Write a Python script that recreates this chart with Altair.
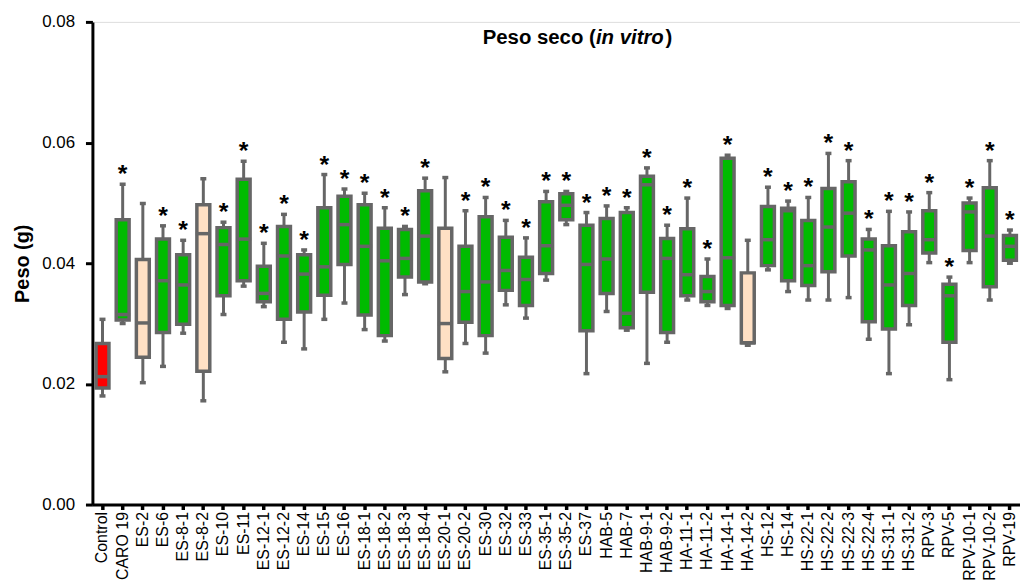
import altair as alt
import pandas as pd

categories = ["Control", "CARO 19", "ES-2", "ES-6", "ES-8-1", "ES-8-2", "ES-10", "ES-11",
              "ES-12-1", "ES-12-2", "ES-14", "ES-15", "ES-16", "ES-18-1", "ES-18-2", "ES-18-3",
              "ES-18-4", "ES-20-1", "ES-20-2", "ES-30", "ES-32", "ES-33", "ES-35-1", "ES-35-2",
              "ES-37", "HAB-5", "HAB-7", "HAB-9-1", "HAB-9-2", "HA-11-1", "HA-11-2", "HA-14-1",
              "HA-14-2", "HS-12", "HS-14", "HS-22-1", "HS-22-2", "HS-22-3", "HS-22-4", "HS-31-1",
              "HS-31-2", "RPV-3", "RPV-5", "RPV-10-1", "RPV-10-2", "RPV-19"]

low = [0.0180, 0.0300, 0.0202, 0.0229, 0.0284, 0.0172, 0.0315, 0.0362,
       0.0328, 0.0269, 0.0258, 0.0307, 0.0334, 0.0290, 0.0271, 0.0348,
       0.0366, 0.0220, 0.0267, 0.0251, 0.0331, 0.0309, 0.0372, 0.0464,
       0.0217, 0.0320, 0.0289, 0.0234, 0.0269, 0.0339, 0.0330, 0.0325,
       0.0264, 0.0389, 0.0353, 0.0339, 0.0339, 0.0343, 0.0274, 0.0217,
       0.0298, 0.0401, 0.0207, 0.0401, 0.0339, 0.0400]
q1 = [0.0193, 0.0306, 0.0244, 0.0285, 0.0299, 0.0221, 0.0346, 0.0371,
      0.0336, 0.0307, 0.0319, 0.0347, 0.0398, 0.0314, 0.0280, 0.0377,
      0.0369, 0.0242, 0.0302, 0.0280, 0.0355, 0.0330, 0.0383, 0.0472,
      0.0288, 0.0350, 0.0293, 0.0352, 0.0285, 0.0346, 0.0336, 0.0330,
      0.0268, 0.0396, 0.0371, 0.0363, 0.0386, 0.0412, 0.0303, 0.0291,
      0.0330, 0.0417, 0.0269, 0.0421, 0.0361, 0.0405]
median = [0.0212, 0.0315, 0.0301, 0.0371, 0.0364, 0.0449, 0.0431, 0.0440,
          0.0350, 0.0412, 0.0382, 0.0394, 0.0464, 0.0428, 0.0404, 0.0408,
          0.0445, 0.0300, 0.0353, 0.0369, 0.0388, 0.0373, 0.0429, 0.0496,
          0.0398, 0.0407, 0.0317, 0.0530, 0.0408, 0.0381, 0.0353, 0.0409,
          0.0268, 0.0439, 0.0487, 0.0396, 0.0460, 0.0483, 0.0422, 0.0364,
          0.0383, 0.0439, 0.0346, 0.0485, 0.0445, 0.0428]
q3 = [0.0267, 0.0472, 0.0406, 0.0440, 0.0414, 0.0497, 0.0459, 0.0539,
      0.0395, 0.0461, 0.0414, 0.0492, 0.0511, 0.0497, 0.0458, 0.0456,
      0.0520, 0.0458, 0.0428, 0.0477, 0.0443, 0.0410, 0.0502, 0.0515,
      0.0463, 0.0474, 0.0484, 0.0544, 0.0441, 0.0457, 0.0378, 0.0574,
      0.0384, 0.0494, 0.0491, 0.0471, 0.0524, 0.0535, 0.0440, 0.0429,
      0.0452, 0.0487, 0.0365, 0.0500, 0.0525, 0.0446]
high = [0.0307, 0.0531, 0.0499, 0.0462, 0.0438, 0.0540, 0.0468, 0.0569,
        0.0433, 0.0481, 0.0422, 0.0547, 0.0523, 0.0516, 0.0492, 0.0461,
        0.0541, 0.0542, 0.0487, 0.0509, 0.0471, 0.0442, 0.0519, 0.0519,
        0.0484, 0.0495, 0.0492, 0.0558, 0.0463, 0.0508, 0.0407, 0.0579,
        0.0438, 0.0526, 0.0503, 0.0509, 0.0582, 0.0570, 0.0456, 0.0486,
        0.0485, 0.0517, 0.0377, 0.0508, 0.0570, 0.0455]

group_names = ["control", "ns", "sig"]
group_colors = ["#ff0000", "#ffe0c4", "#00bb00"]
groups = ["control", "sig", "ns", "sig", "sig", "ns", "sig", "sig",
          "sig", "sig", "sig", "sig", "sig", "sig", "sig", "sig",
          "sig", "ns", "sig", "sig", "sig", "sig", "sig", "sig",
          "sig", "sig", "sig", "sig", "sig", "sig", "sig", "sig",
          "ns", "sig", "sig", "sig", "sig", "sig", "sig", "sig",
          "sig", "sig", "sig", "sig", "sig", "sig"]
star = [0 if g in ("control", "ns") else 1 for g in groups]

df = pd.DataFrame({"cat": categories, "low": low, "q1": q1, "median": median,
                   "q3": q3, "high": high, "grp": groups, "star": star})

FONT = "Liberation Sans"
GRAY = "#666666"

x_enc = alt.X("cat:N", sort=categories, title=None,
              scale=alt.Scale(paddingInner=0, paddingOuter=0),
              axis=alt.Axis(labelAngle=-90, labelFontSize=16, labelColor="black",
                            labelFont=FONT, tickSize=5, tickWidth=3.5, tickColor="black",
                            domainColor="black", domainWidth=3, labelPadding=2,
                            labelOverlap=False))
y_scale = alt.Scale(domain=[0, 0.08], nice=False, zero=True)
y_axis = alt.Axis(values=[0, 0.02, 0.04, 0.06, 0.08], format=".2f", grid=False,
                  labelFontSize=17, labelFont=FONT, labelColor="black", tickSize=7,
                  tickWidth=3, tickColor="black", domainColor="black", domainWidth=3,
                  labelPadding=11, title="Peso (g)", titleFont=FONT, titleFontSize=20,
                  titleFontWeight="bold", titleColor="black", titlePadding=9)

base = alt.Chart(df)

whisker = base.mark_rule(color=GRAY, strokeWidth=3).encode(
    x=x_enc, y=alt.Y("low:Q", scale=y_scale, axis=y_axis), y2="high:Q")

box = base.mark_bar(size=13, stroke=GRAY, strokeWidth=3.5).encode(
    x=x_enc, y="q1:Q", y2="q3:Q",
    color=alt.Color("grp:N", scale=alt.Scale(domain=group_names, range=group_colors),
                    legend=None))

med = base.mark_tick(color=GRAY, thickness=3.5, size=15, orient="horizontal", opacity=1).encode(
    x=x_enc, y="median:Q")

cap_low = base.mark_tick(color=GRAY, thickness=3.5, size=6, orient="horizontal", opacity=1).encode(
    x=x_enc, y="low:Q")
cap_high = base.mark_tick(color=GRAY, thickness=3.5, size=6, orient="horizontal", opacity=1).encode(
    x=x_enc, y="high:Q")

stars = base.transform_filter(alt.datum.star == 1).mark_text(
    text="*", fontSize=25, font=FONT, fontWeight="bold", color="black",
    baseline="alphabetic", dy=-2
).encode(x=x_enc, y="high:Q")

one = alt.Data(values=[{"k": 1}])
title_size = 20.5
t1 = alt.Chart(one).mark_text(text="Peso seco (", font=FONT, fontSize=title_size,
                              fontWeight="bold", align="left", baseline="alphabetic",
                              color="black").encode(x=alt.value(393), y=alt.value(22))
t2 = alt.Chart(one).mark_text(text="in vitro", font=FONT, fontSize=title_size,
                              fontWeight="bold", fontStyle="italic", align="left",
                              baseline="alphabetic", color="black").encode(
    x=alt.value(507), y=alt.value(22))
t3 = alt.Chart(one).mark_text(text=")", font=FONT, fontSize=title_size,
                              fontWeight="bold", align="left", baseline="alphabetic",
                              color="black").encode(x=alt.value(577), y=alt.value(22))

chart = alt.layer(whisker, box, med, cap_low, cap_high, stars, t1, t2, t3).properties(
    width=934, height=486,
    padding={"top": 3, "left": 4, "right": 0, "bottom": 0},
).configure_view(stroke=None).configure(font=FONT)

chart.save("out.html", embed_options={"renderer": "svg", "actions": False})
